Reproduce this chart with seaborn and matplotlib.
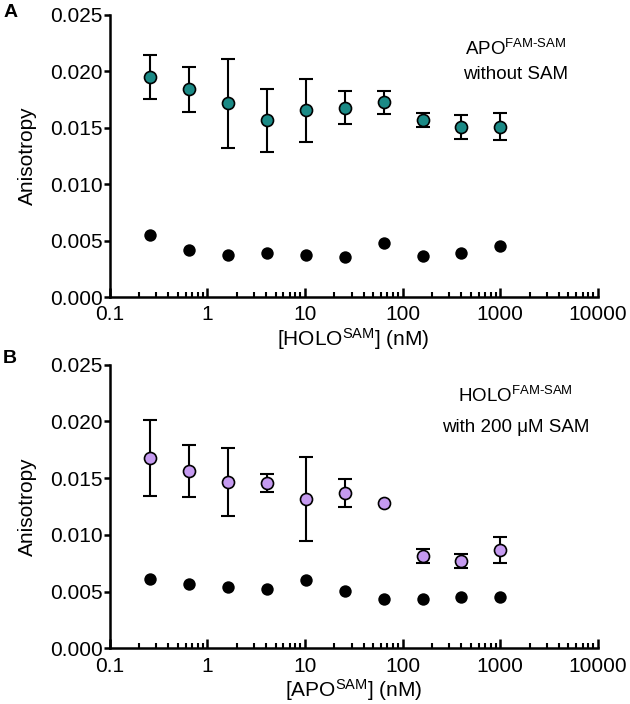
import matplotlib
matplotlib.use("Agg")
import matplotlib.pyplot as plt
import matplotlib.ticker as mticker
import numpy as np
import pandas as pd
import seaborn as sns

# titrant concentrations (nM), same for both panels
conc = [0.262, 0.655, 1.64, 4.1, 10.24, 25.6, 64, 160, 400, 1000]

# panel A: APO-FAM-SAM titrated with HOLO-SAM
apo_mean = [0.01950, 0.01840, 0.01715, 0.01565, 0.01653, 0.01678, 0.01724, 0.01568, 0.01505, 0.01510]
apo_err = [0.00198, 0.00199, 0.00397, 0.00277, 0.00277, 0.00146, 0.00100, 0.00065, 0.00108, 0.00118]
apo_ctrl = [0.00553, 0.00421, 0.00377, 0.00392, 0.00377, 0.00356, 0.00480, 0.00368, 0.00392, 0.00450]

# panel B: HOLO-FAM-SAM titrated with APO-SAM
holo_mean = [0.01680, 0.01561, 0.01463, 0.01458, 0.01313, 0.01370, 0.01279, 0.00815, 0.00772, 0.00866]
holo_err = [0.00336, 0.00229, 0.00300, 0.00077, 0.00370, 0.00122, 0.00010, 0.00063, 0.00060, 0.00112]
holo_ctrl = [0.00607, 0.00566, 0.00537, 0.00519, 0.00602, 0.00508, 0.00434, 0.00434, 0.00455, 0.00449]

TEAL = "#1b8a86"
PURPLE = "#c59af0"

sns.set_style("ticks")
plt.rcParams["font.family"] = ["Liberation Sans", "DejaVu Sans"]
plt.rcParams["mathtext.fontset"] = "custom"
plt.rcParams["mathtext.rm"] = "Liberation Sans"
plt.rcParams["mathtext.it"] = "Liberation Sans:italic"
for key in ("text.color", "axes.labelcolor", "xtick.color", "ytick.color", "axes.edgecolor"):
    plt.rcParams[key] = "black"

fig = plt.figure(figsize=(6.3, 7.04), dpi=100)
ax_a = fig.add_axes([0.174, 0.578, 0.775, 0.401])
ax_b = fig.add_axes([0.174, 0.079, 0.775, 0.403])


def draw_panel(ax, mean, err, ctrl, color, xlabel, title, subtitle, title_y, sub_y):
    df = pd.DataFrame({"conc": conc, "mean": mean, "err": err, "ctrl": ctrl})
    # like Prism: bars shorter than the symbol are not drawn
    bars = df[df["err"] > 0.0003]
    ax.errorbar(bars["conc"], bars["mean"], yerr=bars["err"], fmt="none",
                ecolor="black", elinewidth=1.5, capsize=5, capthick=1.5, zorder=2)
    sns.scatterplot(data=df, x="conc", y="mean", color=color, s=75,
                    edgecolor="black", linewidth=1.2, ax=ax, zorder=3)
    sns.scatterplot(data=df, x="conc", y="ctrl", color="black", s=80,
                    edgecolor="black", linewidth=0, ax=ax, zorder=3)

    ax.set_xscale("log")
    ax.set_xlim(0.1, 10000)
    ax.set_ylim(0, 0.025)
    ax.set_yticks(np.arange(0, 0.0251, 0.005))
    ax.yaxis.set_major_formatter(mticker.FormatStrFormatter("%.3f"))
    ax.set_xticks([0.1, 1, 10, 100, 1000, 10000])
    ax.set_xticklabels(["0.1", "1", "10", "100", "1000", "10000"])
    ax.xaxis.set_minor_locator(mticker.LogLocator(base=10, subs=np.arange(2, 10)))
    ax.xaxis.set_minor_formatter(mticker.NullFormatter())

    for side in ("top", "right"):
        ax.spines[side].set_visible(False)
    for side in ("left", "bottom"):
        ax.spines[side].set_linewidth(1.8)
    ax.tick_params(axis="y", direction="out", length=4, width=1.8, labelsize=15, pad=1)
    ax.tick_params(axis="x", which="major", direction="in", length=6.5, width=1.8,
                   labelsize=15, pad=6)
    ax.tick_params(axis="x", which="minor", direction="in", length=3.6, width=1.5)

    ax.set_ylabel("Anisotropy", fontsize=15, labelpad=9)
    ax.set_xlabel(xlabel, fontsize=15, labelpad=1)
    ax.text(0.832, title_y, title, transform=ax.transAxes, ha="center", va="baseline", fontsize=13.5)
    ax.text(0.832, sub_y, subtitle, transform=ax.transAxes, ha="center", va="baseline", fontsize=13.5)


draw_panel(ax_a, apo_mean, apo_err, apo_ctrl, TEAL,
           r"[HOLO$^{\mathrm{SAM}}$] (nM)", r"APO$^{\mathrm{FAM\text{-}SAM}}$", "without SAM",
           0.858, 0.773)
draw_panel(ax_b, holo_mean, holo_err, holo_ctrl, PURPLE,
           r"[APO$^{\mathrm{SAM}}$] (nM)", r"HOLO$^{\mathrm{FAM\text{-}SAM}}$", "with 200 \u03bcM SAM",
           0.867, 0.764)

fig.text(0.016, 0.982, "A", fontsize=14, fontweight="bold", ha="center", va="center")
fig.text(0.016, 0.491, "B", fontsize=14, fontweight="bold", ha="center", va="center")

fig.savefig("out.png", dpi=100)
